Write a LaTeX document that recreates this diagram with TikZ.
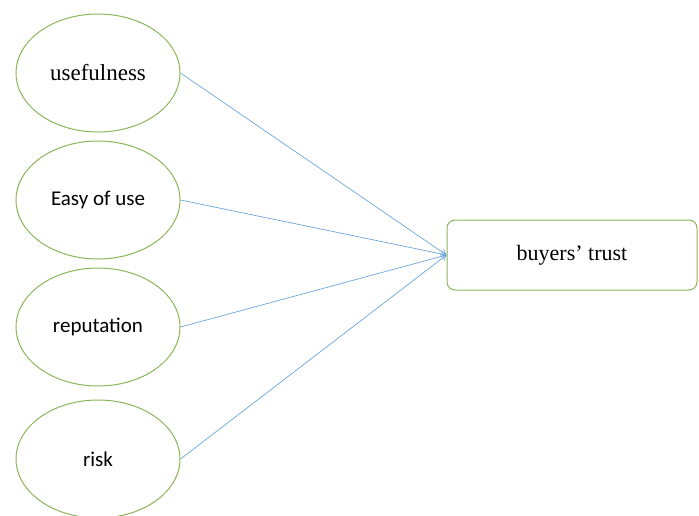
\documentclass[tikz,border=0pt]{standalone}
\usepackage{fontspec}
\setmainfont{Liberation Serif}
\newfontfamily\calfont{Carlito}
\usetikzlibrary{shapes.geometric,arrows.meta}
\definecolor{egreen}{RGB}{140,180,90}
\definecolor{lblue}{RGB}{110,165,220}
\tikzset{
  factor/.style={ellipse, draw=egreen, line width=1pt, minimum width=164pt, minimum height=118pt, inner sep=0pt},
  target/.style={rectangle, rounded corners=8pt, draw=egreen, line width=1pt, minimum width=250pt, minimum height=70pt, inner sep=0pt},
  link/.style={draw=lblue, line width=0.7pt, -{Straight Barb[length=5pt,width=6pt]}}
}
\begin{document}
\begin{tikzpicture}[x=1pt,y=-1pt]
\useasboundingbox (0,0) rectangle (699,515);
\node[factor] (u) at (98,73) {\fontsize{23}{26}\selectfont usefulness};
\node[factor] (e) at (98,200) {\calfont\fontsize{21}{25}\selectfont Easy of use};
\node[factor] (r) at (98,327) {\calfont\fontsize{21}{25}\selectfont reputation};
\node[factor] (k) at (98,459) {\calfont\fontsize{21}{25}\selectfont risk};
\node[target] (t) at (572,255) {\fontsize{22}{26}\selectfont buyers' trust};
\foreach \n in {u,e,r,k} \draw[link] (\n.east) -- (t.west);
\end{tikzpicture}
\end{document}
